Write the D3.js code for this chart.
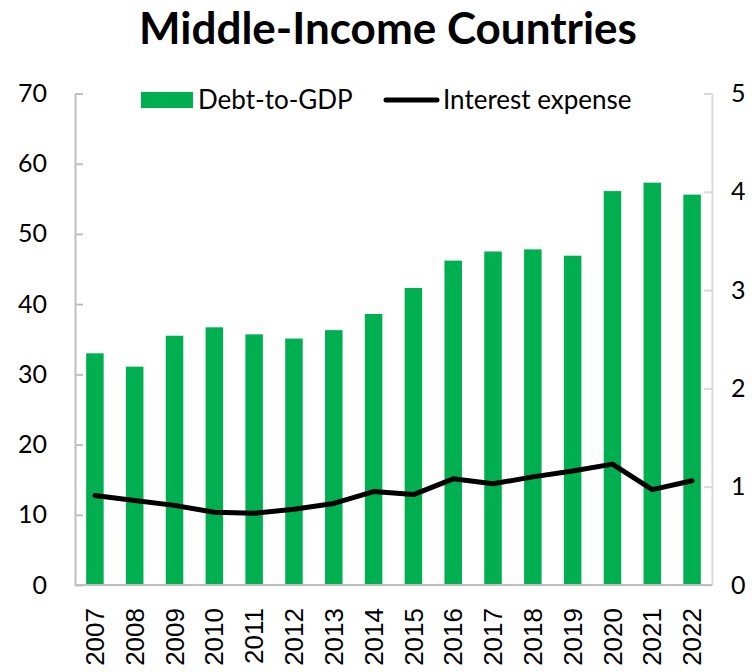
<!DOCTYPE html>
<html>
<head>
<meta charset="utf-8">
<script src="https://cdn.jsdelivr.net/npm/d3@7"></script>
<style>
  html, body { margin: 0; padding: 0; background: #fff; }
  svg { display: block; }
</style>
</head>
<body>
<svg id="chart" width="753" height="672"></svg>
<script>
// Middle-income countries: government debt (% of GDP, left axis)
// and interest expense (% of GDP, right axis)
const years = ["2007","2008","2009","2010","2011","2012","2013","2014",
               "2015","2016","2017","2018","2019","2020","2021","2022"];
const debtToGDP = [33.0, 31.1, 35.5, 36.7, 35.7, 35.1, 36.3, 38.6,
                   42.3, 46.2, 47.5, 47.8, 46.9, 56.1, 57.3, 55.6];
const interestExpense = [0.91, 0.86, 0.81, 0.74, 0.73, 0.77, 0.83, 0.95,
                         0.92, 1.08, 1.03, 1.10, 1.16, 1.23, 0.97, 1.06];
const leftTicks = [0, 10, 20, 30, 40, 50, 60, 70];
const rightTicks = [0, 1, 2, 3, 4, 5];

const svg = d3.select("#chart");
const plot = { left: 75, right: 712, top: 93.5, bottom: 585 };
const green = "#00B050";
const uiFont = "Lato, 'Open Sans', sans-serif";

const x = d3.scaleBand()
  .domain(years)
  .range([plot.left, plot.right])
  .paddingInner(0.56)
  .paddingOuter(0.28);

const yLeft = d3.scaleLinear().domain([0, 70]).range([plot.bottom, plot.top]);
const yRight = d3.scaleLinear().domain([0, 5]).range([plot.bottom, plot.top]);

// Title
svg.append("text")
  .attr("x", 388).attr("y", 44)
  .attr("text-anchor", "middle")
  .attr("font-family", uiFont)
  .attr("font-weight", 700)
  .attr("font-size", 44)
  .attr("fill", "#000")
  .text("Middle-Income Countries");

// Bars
svg.append("g")
  .selectAll("rect")
  .data(years)
  .join("rect")
  .attr("x", d => x(d))
  .attr("width", x.bandwidth())
  .attr("y", (d, i) => yLeft(debtToGDP[i]))
  .attr("height", (d, i) => yLeft(0) - yLeft(debtToGDP[i]))
  .attr("fill", green);

// Left axis
const leftAxis = svg.append("g")
  .attr("transform", `translate(${plot.left},0)`)
  .call(d3.axisLeft(yLeft).tickValues(leftTicks).tickFormat(d3.format("d"))
    .tickSizeInner(-8).tickSizeOuter(0).tickPadding(28));
leftAxis.select(".domain").attr("stroke", "#BFBFBF").attr("stroke-width", 2);
leftAxis.selectAll(".tick line").attr("stroke", "#BFBFBF").attr("stroke-width", 2);
leftAxis.selectAll(".tick text")
  .attr("font-family", uiFont).attr("font-size", 25).attr("fill", "#000");

// Right axis
const rightAxis = svg.append("g")
  .attr("transform", `translate(${plot.right},0)`)
  .call(d3.axisRight(yRight).tickValues(rightTicks).tickFormat(d3.format("d"))
    .tickSizeInner(-8).tickSizeOuter(0).tickPadding(19));
rightAxis.select(".domain").attr("stroke", "#D9D9D9").attr("stroke-width", 2);
rightAxis.selectAll(".tick line").attr("stroke", "#D9D9D9").attr("stroke-width", 2);
rightAxis.selectAll(".tick text")
  .attr("font-family", uiFont).attr("font-size", 25).attr("fill", "#000");

// Bottom axis with rotated year labels
const bottomAxis = svg.append("g")
  .attr("transform", `translate(0,${plot.bottom})`)
  .call(d3.axisBottom(x).tickSize(0).tickPadding(0));
bottomAxis.select(".domain")
  .attr("d", `M${plot.left},0H${plot.right}`)
  .attr("stroke", "#BFBFBF").attr("stroke-width", 2);
bottomAxis.selectAll(".tick text")
  .attr("font-family", "'Liberation Sans', Arial, sans-serif")
  .attr("font-size", 26)
  .attr("fill", "#000")
  .attr("text-anchor", "end")
  .attr("dy", "0.35em")
  .attr("transform", "translate(0,23) rotate(-90)");

// Interest expense line
const line = d3.line()
  .x((d, i) => x(years[i]) + x.bandwidth() / 2)
  .y(d => yRight(d));
svg.append("path")
  .datum(interestExpense)
  .attr("d", line)
  .attr("fill", "none")
  .attr("stroke", "#000")
  .attr("stroke-width", 5)
  .attr("stroke-linecap", "round")
  .attr("stroke-linejoin", "round");

// Legend
const legend = svg.append("g");
legend.append("rect")
  .attr("x", 141).attr("y", 92).attr("width", 52).attr("height", 16)
  .attr("fill", green);
legend.append("text")
  .attr("x", 198).attr("y", 100).attr("dy", "0.35em")
  .attr("font-family", uiFont).attr("font-size", 26).attr("fill", "#000")
  .text("Debt-to-GDP");
legend.append("line")
  .attr("x1", 386).attr("x2", 437).attr("y1", 100).attr("y2", 100)
  .attr("stroke", "#000").attr("stroke-width", 5).attr("stroke-linecap", "round");
legend.append("text")
  .attr("x", 443).attr("y", 100).attr("dy", "0.35em")
  .attr("font-family", uiFont).attr("font-size", 26).attr("fill", "#000")
  .text("Interest expense");
</script>
</body>
</html>
